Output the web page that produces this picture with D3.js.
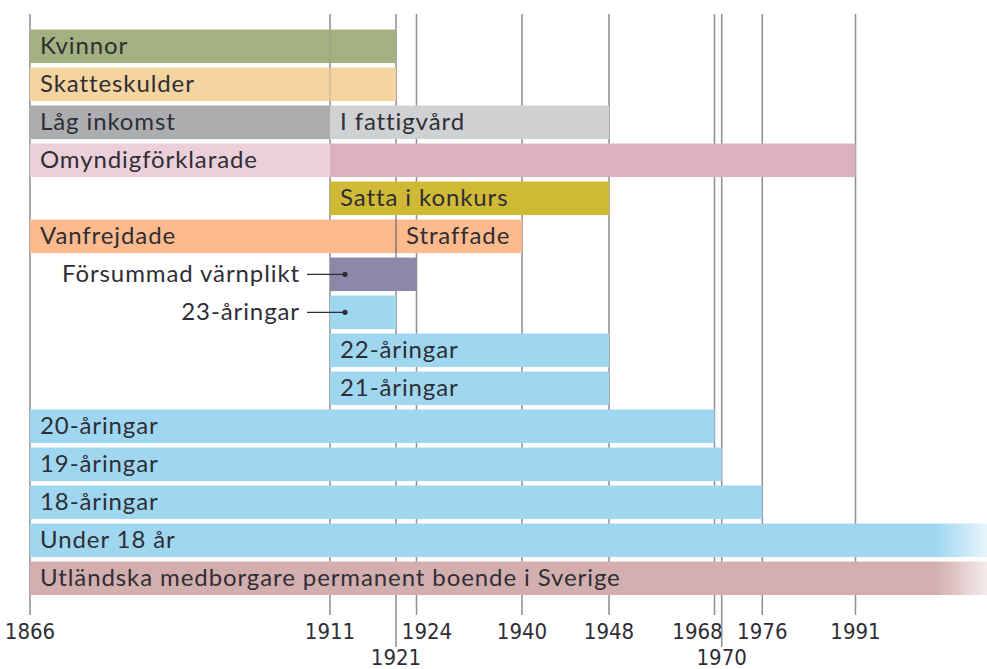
<!DOCTYPE html>
<html><head><meta charset="utf-8">
<script src="https://cdn.jsdelivr.net/npm/d3@7"></script>
<style>body{margin:0;background:#fff}svg{display:block}</style>
</head><body>
<script>
// Axis years (vertical reference lines)
const years = [1866, 1911, 1921, 1924, 1940, 1948, 1968, 1970, 1976, 1991];
const lowYears = [1921, 1970];      // labels placed on the second line
const openEnd = 2010;               // still in force (bar runs off the right edge)

// Rows, top to bottom
const rows = ["Kvinnor","Skatteskulder","Låg inkomst","Omyndigförklarade","Satta i konkurs",
  "Vanfrejdade","Försummad värnplikt","23-åringar","22-åringar","21-åringar",
  "20-åringar","19-åringar","18-åringar","Under 18 år","Utländska medborgare"];

// Segments: row index, label, start year, end year, colour
const segRow   = [0,1,2,2,3,3,4,5,5,6,7,8,9,10,11,12,13,14];
const segLabel = ["Kvinnor","Skatteskulder","Låg inkomst","I fattigvård","Omyndigförklarade","",
  "Satta i konkurs","Vanfrejdade","Straffade","","","22-åringar","21-åringar","20-åringar",
  "19-åringar","18-åringar","Under 18 år","Utländska medborgare permanent boende i Sverige"];
const segStart = [1866,1866,1866,1911,1866,1911,1911,1866,1921,1911,1911,1911,1911,1866,1866,1866,1866,1866];
const segEnd   = [1921,1921,1911,1948,1911,1991,1948,1921,1940,1924,1921,1948,1948,1968,1970,1976,openEnd,openEnd];
const segColor = ["#a3b07f","#f5d49f","#abadaf","#d0d1d3","#ebd0da","#dcb2c3","#cfb935","#fdba8c","#fdba8c",
  "#8b88a8","#9fd7f0","#9fd7f0","#9fd7f0","#9fd7f0","#9fd7f0","#9fd7f0","#9fd7f0","#d3aeae"];

// Outside labels with leader lines
const calloutRow = [6, 7];
const calloutText = ["Försummad värnplikt", "23-åringar"];

const W = 987, H = 669;
const svg = d3.select("body").append("svg").attr("width", W).attr("height", H);

const x = d3.scaleLinear()
  .domain([1866, 1911, 1921, 1924, 1940, 1948, 1968, 1970, 1976, 1991, openEnd])
  .range([30, 330, 396, 416.5, 522, 609, 714.5, 721.7, 762.3, 855.5, 987]);

const y = d3.scaleBand().domain(d3.range(rows.length))
  .range([27.3, 27.3 + 38 * rows.length]).paddingInner(0.118).paddingOuter(0.059);

const lineCol = "#8e8e93", textCol = "#2f2e36";
const mainFont = "Lato, 'Open Sans', sans-serif";

// gradients for open-ended bars
const defs = svg.append("defs");
segColor.forEach((c, i) => {
  if (segEnd[i] !== openEnd) return;
  const g = defs.append("linearGradient").attr("id", "fade" + i)
    .attr("gradientUnits", "userSpaceOnUse")
    .attr("x1", 935).attr("x2", 987).attr("y1", 0).attr("y2", 0);
  g.append("stop").attr("offset", 0).attr("stop-color", c).attr("stop-opacity", 1);
  g.append("stop").attr("offset", 1).attr("stop-color", c).attr("stop-opacity", 0.25);
});

// vertical lines
svg.append("g").selectAll("line").data(years).join("line")
  .attr("x1", d => x(d)).attr("x2", d => x(d))
  .attr("y1", 14).attr("y2", d => lowYears.includes(d) ? 647 : 615)
  .attr("stroke", lineCol).attr("stroke-width", 1.5);

// bars
const idx = d3.range(segRow.length);
svg.append("g").selectAll("rect").data(idx).join("rect")
  .attr("x", i => x(segStart[i]))
  .attr("y", i => y(segRow[i]))
  .attr("width", i => x(segEnd[i]) - x(segStart[i]))
  .attr("height", y.bandwidth())
  .attr("fill", i => segEnd[i] === openEnd ? `url(#fade${i})` : segColor[i]);

// faint divider lines where a category changes inside a row
svg.append("g").selectAll("line").data([0, 1]).join("line")
  .attr("x1", x(1911)).attr("x2", x(1911))
  .attr("y1", r => y(r)).attr("y2", r => y(r) + y.bandwidth())
  .attr("stroke", lineCol).attr("stroke-opacity", 0.35).attr("stroke-width", 1.5);
svg.append("line")
  .attr("x1", x(1921)).attr("x2", x(1921))
  .attr("y1", y(5)).attr("y2", y(5) + y.bandwidth())
  .attr("stroke", "#6e6a6a").attr("stroke-width", 1.3);

// bar labels
svg.append("g").selectAll("text").data(idx.filter(i => segLabel[i])).join("text")
  .attr("x", i => x(segStart[i]) + 10)
  .attr("y", i => y(segRow[i]) + y.bandwidth() / 2 + 8)
  .attr("font-family", mainFont)
  .attr("font-size", 24).attr("letter-spacing", 0.9).attr("fill", textCol)
  .text(i => segLabel[i]);

// callouts
const cg = svg.append("g").selectAll("g").data(d3.range(calloutRow.length)).join("g");
cg.append("text")
  .attr("x", 300).attr("y", k => y(calloutRow[k]) + y.bandwidth() / 2 + 8)
  .attr("text-anchor", "end")
  .attr("font-family", mainFont)
  .attr("font-size", 24).attr("letter-spacing", 0.9).attr("fill", textCol)
  .text(k => calloutText[k]);
cg.append("line")
  .attr("x1", 307).attr("x2", 345)
  .attr("y1", k => y(calloutRow[k]) + y.bandwidth() / 2)
  .attr("y2", k => y(calloutRow[k]) + y.bandwidth() / 2)
  .attr("stroke", textCol).attr("stroke-width", 1.2);
cg.append("circle")
  .attr("cx", 345).attr("cy", k => y(calloutRow[k]) + y.bandwidth() / 2)
  .attr("r", 2.6).attr("fill", textCol);

// year labels (a couple nudged sideways to avoid crowding, as in the original)
const labelShift = {1924: 10.5, 1968: -17};
svg.append("g").selectAll("text").data(years).join("text")
  .attr("x", d => x(d) + (labelShift[d] || 0))
  .attr("y", d => lowYears.includes(d) ? 665 : 639)
  .attr("text-anchor", "middle")
  .attr("font-family", "'Liberation Sans Narrow', 'DejaVu Sans Condensed', sans-serif")
  .attr("font-size", 22).attr("fill", textCol)
  .text(d => d);
</script>
</body></html>
